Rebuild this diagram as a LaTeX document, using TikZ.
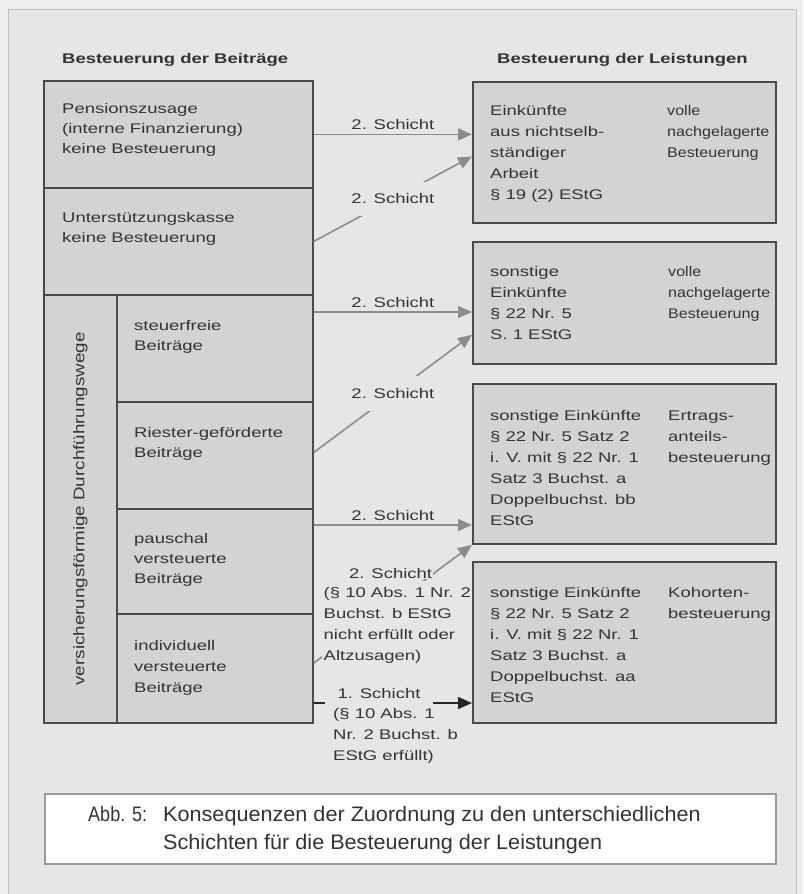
\documentclass[tikz,border=0pt]{standalone}
\usepackage{fontspec}
\setmainfont{Liberation Sans}
\newfontfamily\dfont{Liberation Sans}[FakeStretch=1.32]
\newfontfamily\nfont{Liberation Sans}[FakeStretch=1.15]
\newfontfamily\vfont{Liberation Sans}[FakeStretch=1.22]
\newfontfamily\capfont{Liberation Sans}[FakeStretch=1.03]
\newfontfamily\abbfont{Liberation Sans}[FakeStretch=0.86]
\usetikzlibrary{arrows.meta,calc}

\definecolor{pagebg}{HTML}{EFEFEF}
\definecolor{framebg}{HTML}{E6E6E6}
\definecolor{frameline}{HTML}{BDBDBD}
\definecolor{boxfill}{HTML}{D3D3D3}
\definecolor{boxline}{HTML}{4A4A4A}
\definecolor{arrowgray}{HTML}{8C8C8C}
\definecolor{ink}{HTML}{333333}
\definecolor{capline}{HTML}{9A9A9A}

% left-aligned stack of lines, baseline on the first line
\newcommand\stack[1]{\begin{tabular}[t]{@{}l@{}}#1\end{tabular}}

\begin{document}
\begin{tikzpicture}[x=1pt,y=-1pt,
  cell/.style={draw=boxline,line width=1.8pt,fill=boxfill,rectangle,inner sep=0pt,anchor=north west},
  body/.style={anchor=base west,inner sep=0pt,text=ink,font=\dfont\fontsize{14}{20}\selectfont},
  body21/.style={body,font=\dfont\fontsize{14}{21}\selectfont},
  narrow21/.style={body,font=\nfont\fontsize{14}{21}\selectfont},
  head/.style={anchor=base west,inner sep=0pt,text=ink,font=\dfont\bfseries\fontsize{14}{20}\selectfont},
  conn/.style={draw=arrowgray,line width=1.6pt,-{Triangle[length=14pt,width=12pt]}},
  firstconn/.style={draw=black!85,line width=1.6pt,-{Triangle[length=14pt,width=12pt]}},
  lab/.style={body,anchor=base,yshift=5pt},
  tag/.style={body,anchor=center,fill=framebg,inner xsep=2pt,inner ysep=12pt},
  captext/.style={anchor=base west,inner sep=0pt,text=ink,font=\capfont\fontsize{21}{28}\selectfont},
]
\useasboundingbox (0,0) rectangle (803,894);
\fill[pagebg] (0,0) rectangle (803,894);
\draw[fill=framebg,draw=frameline,line width=1.5pt] (8.5,9.5) rectangle (796.5,905);

% headings
\node[head] (h1) at (62,63) {Besteuerung der Beiträge};
\node[head] (h2) at (497,63) {Besteuerung der Leistungen};

% left column: contributions
\node[cell,minimum width=269pt,minimum height=107pt] (pz) at (43,80) {};
\node[cell,minimum width=269pt,minimum height=107pt] (uk) at (43,187) {};
\node[cell,minimum width=73pt,minimum height=428pt] (vs) at (43,294) {};
\node[cell,minimum width=196pt,minimum height=107pt] (sf) at (116,294) {};
\node[cell,minimum width=196pt,minimum height=107pt] (ri) at (116,401) {};
\node[cell,minimum width=196pt,minimum height=105pt] (pa) at (116,508) {};
\node[cell,minimum width=196pt,minimum height=109pt] (iv) at (116,613) {};

\node[body] (tpz) at (62,113) {\stack{Pensionszusage\\(interne Finanzierung)\\keine Besteuerung}};
\node[body] (tuk) at (62,222) {\stack{Unterstützungskasse\\keine Besteuerung}};
\node[body] (tsf) at (134,330) {\stack{steuerfreie\\Beiträge}};
\node[body] (tri) at (134,437) {\stack{Riester-geförderte\\Beiträge}};
\node[body] (tpa) at (134,543) {\stack{pauschal\\versteuerte\\Beiträge}};
\node[body21] (tiv) at (134,650) {\stack{individuell\\versteuerte\\Beiträge}};
\node[rotate=90,inner sep=0pt,text=ink,font=\vfont\fontsize{15.4}{18}\selectfont] (vt) at (vs.center) {versicherungsförmige Durchführungswege};

% right column: benefits
\node[cell,minimum width=303pt,minimum height=141pt] (b1) at (472,81) {};
\node[cell,minimum width=303pt,minimum height=122pt] (b2) at (472,241) {};
\node[cell,minimum width=303pt,minimum height=160pt] (b3) at (472,383) {};
\node[cell,minimum width=303pt,minimum height=161pt] (b4) at (472,561) {};

\node[body21] (t1a) at (490,115) {\stack{Einkünfte\\aus nichtselb-\\ständiger\\Arbeit\\§ 19 (2) EStG}};
\node[narrow21] (t1b) at (667,115) {\stack{volle\\nachgelagerte\\Besteuerung}};
\node[body21] (t2a) at (490,276) {\stack{sonstige\\Einkünfte\\§ 22 Nr. 5\\S. 1 EStG}};
\node[narrow21] (t2b) at (668,276) {\stack{volle\\nachgelagerte\\Besteuerung}};
\node[body21] (t3a) at (490,420) {\stack{sonstige Einkünfte\\§ 22 Nr. 5 Satz 2\\i. V. mit § 22 Nr. 1\\Satz 3 Buchst. a\\Doppelbuchst. bb\\EStG}};
\node[body21] (t3b) at (668,420) {\stack{Ertrags-\\anteils-\\besteuerung}};
\node[body21] (t4a) at (490,597) {\stack{sonstige Einkünfte\\§ 22 Nr. 5 Satz 2\\i. V. mit § 22 Nr. 1\\Satz 3 Buchst. a\\Doppelbuchst. aa\\EStG}};
\node[body21] (t4b) at (668,597) {\stack{Kohorten-\\besteuerung}};

% connectors
\coordinate (s3) at ($(sf.north east)+(0,18)$);
\coordinate (s5) at ($(pa.north east)+(0,17)$);
\coordinate (s6) at ($(iv.north east)+(0,50)$);
\coordinate (s7) at ($(iv.north east)+(0,90)$);

\draw[conn] (pz.east) -- (b1.west |- pz.east) node[lab,midway] (l1) {2. Schicht};
\draw[conn] (uk.east) -- ($(b1.west)+(0,4)$) node[tag,midway] (l2) {2. Schicht};
\draw[conn] (s3) -- (b2.west |- s3) node[lab,midway] (l3) {2. Schicht};
\draw[conn] ($(ri.east)+(0,-3)$) -- ($(b2.south west)+(0,-30)$) node[tag,midway] (l4) {2. Schicht};
\draw[conn] (s5) -- (b3.west |- s5) node[lab,midway] (l5) {2. Schicht};
\draw[conn] (s6) -- (b3.south west);
\draw[firstconn] (s7) -- (b4.west |- s7);

\node[body,fill=framebg,inner sep=1pt] (l6a) at (348,578) {2. Schicht};
\node[body21,fill=framebg,inner sep=1.5pt] (l6b) at (322,597) {\stack{(§ 10 Abs. 1 Nr. 2\\Buchst. b EStG\\nicht erfüllt oder\\Altzusagen)}};
\node[body,anchor=base,fill=framebg,inner xsep=13pt,inner ysep=7pt] (l7a) at (379,698) {1. Schicht};
\node[body21] (l7b) at (333,718) {\stack{(§ 10 Abs. 1\\Nr. 2 Buchst. b\\EStG erfüllt)}};

% caption
\node[draw=capline,fill=white,line width=1.5pt,minimum width=731pt,minimum height=70pt,anchor=north west,inner sep=0pt] (cap) at (44,793) {};
\node[captext,font=\abbfont\fontsize{21}{28}\selectfont] (abb) at (88,821) {Abb. 5:};
\node[captext] (capt) at (163,821) {\stack{Konsequenzen der Zuordnung zu den unterschiedlichen\\Schichten für die Besteuerung der Leistungen}};
\end{tikzpicture}
\end{document}
